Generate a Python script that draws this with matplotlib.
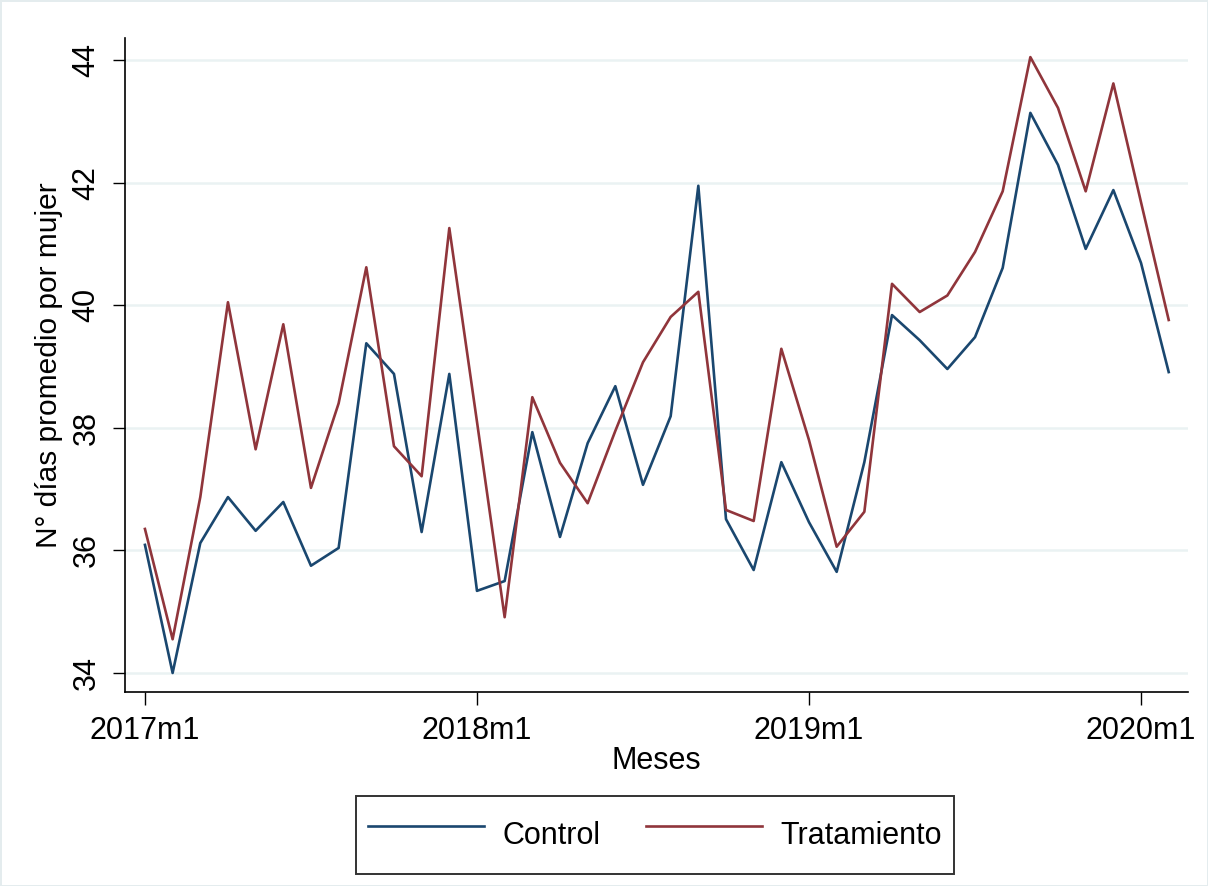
"""
Promedio mensual de días por mujer: control vs tratamiento (estilo Stata s2color)
"""
import numpy as np
import pandas as pd
import matplotlib
matplotlib.use("Agg")
import matplotlib.pyplot as plt

months = pd.period_range("2017-01", "2020-02", freq="M")

control = [36.09, 34.00, 36.12, 36.87, 36.32, 36.79, 35.75, 36.04, 39.38, 38.88,
           36.30, 38.88, 35.34, 35.50, 37.93, 36.22, 37.75, 38.68, 37.07, 38.19,
           41.95, 36.51, 35.68, 37.44, 36.46, 35.65, 37.44, 39.84, 39.43, 38.96,
           39.48, 40.61, 43.14, 42.29, 40.92, 41.88, 40.69, 38.91]
tratamiento = [36.35, 34.55, 36.87, 40.05, 37.65, 39.69, 37.02, 38.40, 40.62, 37.70,
               37.21, 41.26, 38.10, 34.91, 38.50, 37.43, 36.77, 37.95, 39.07, 39.81,
               40.22, 36.66, 36.48, 39.29, 37.80, 36.06, 36.63, 40.35, 39.89, 40.16,
               40.87, 41.86, 44.05, 43.22, 41.86, 43.62, 41.68, 39.76]

xtick_months = ["2017-01", "2018-01", "2019-01", "2020-01"]
ytick_values = [34, 36, 38, 40, 42, 44]

navy = "#1A476F"
maroon = "#90353B"
grid_col = "#EAF2F3"

plt.rcParams["font.family"] = ["Liberation Sans", "DejaVu Sans"]

fig = plt.figure(figsize=(12.08, 8.86), dpi=100)
fig.patch.set_edgecolor("#E4ECEE")
fig.patch.set_linewidth(2)
ax = fig.add_axes([0.1035, 0.219, 0.88, 0.738])

start = months[0]
x = np.array([(m - start).n for m in months])

ax.plot(x, control, color=navy, lw=1.9, label="Control")
ax.plot(x, tratamiento, color=maroon, lw=1.9, label="Tratamiento")

xticks = [(pd.Period(m, freq="M") - start).n for m in xtick_months]
ax.set_xticks(xticks)
ax.set_xticklabels([f"{pd.Period(m).year}m{pd.Period(m).month}" for m in xtick_months],
                   fontsize=22)
ax.set_yticks(ytick_values)
ax.set_yticklabels([str(v) for v in ytick_values], fontsize=22, rotation=90, va="center")

ax.set_xlim(-0.72, 37.7)
ax.set_ylim(33.69, 44.36)

ax.grid(axis="y", color=grid_col, lw=1.8)
ax.set_axisbelow(True)
for side in ["top", "right"]:
    ax.spines[side].set_visible(False)
for side in ["left", "bottom"]:
    ax.spines[side].set_linewidth(1.2)
ax.tick_params(axis="both", length=9, width=1.0, pad=8)

ax.set_xlabel("Meses", fontsize=22, labelpad=0)
ax.set_ylabel("N° días promedio por mujer", fontsize=21.5, labelpad=6)

leg = fig.legend(loc="center", bbox_to_anchor=(655 / 1208, 1 - 835 / 886), ncol=2,
                 fontsize=22, frameon=True, fancybox=False, handlelength=3.8,
                 handleheight=2.3, columnspacing=1.5, borderpad=0.4,
                 handletextpad=0.6)
leg.get_frame().set_edgecolor("black")
leg.get_frame().set_linewidth(1.4)

fig.savefig("out.png", dpi=100)
